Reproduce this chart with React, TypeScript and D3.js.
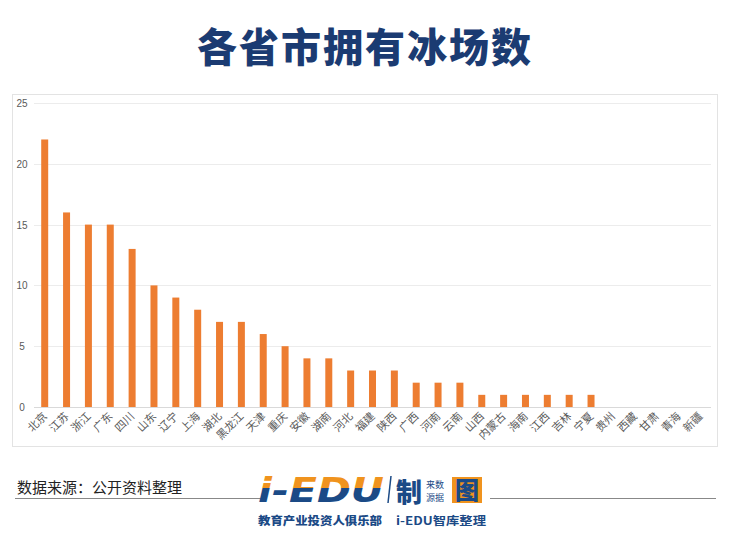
import React from "react";
import * as d3 from "d3";

const provinces = ["北京","江苏","浙江","广东","四川","山东","辽宁","上海","湖北","黑龙江","天津","重庆","安徽","湖南","河北","福建","陕西","广西","河南","云南","山西","内蒙古","海南","江西","吉林","宁夏","贵州","西藏","甘肃","青海","新疆"];
const rinkCounts = [22,16,15,15,13,10,9,8,7,7,6,5,4,4,3,3,3,2,2,2,1,1,1,1,1,1,0,0,0,0,0];
const yTicks = [0,5,10,15,20,25];
const titleText = "各省市拥有冰场数";
const sourceText = "数据来源：公开资料整理";

const W = 730, H = 535;
const plot = { left: 34, right: 711, top: 103, bottom: 407 };

export default function App() {
  const x = d3.scaleBand<string>().domain(provinces).range([plot.left, plot.right]).paddingInner(0.68).paddingOuter(0.33);
  const y = d3.scaleLinear().domain([0, 25]).range([plot.bottom, plot.top]);
  const cjk = "'Noto Sans CJK SC', 'Noto Sans', sans-serif";
  return (
    <div style={{ position: "absolute", left: 0, top: 0 }}>
      <svg width={W} height={H} style={{ display: "block", background: "#fff" }}>
        <defs>
          <linearGradient id="logoGrad" x1="0" y1="0" x2="0" y2="1">
            <stop offset="0" stopColor="#f0931e" />
            <stop offset="0.45" stopColor="#f0931e" />
            <stop offset="0.45" stopColor="#1b4a86" />
            <stop offset="1" stopColor="#1b4a86" />
          </linearGradient>
        </defs>
        <rect x={0} y={0} width={W} height={H} fill="#fff" />
        {/* title */}
        <text x={365} y={62} textAnchor="middle" fontFamily={cjk} fontWeight={900} fontSize={40} fill="#1b3b72" letterSpacing={2}>{titleText}</text>
        {/* chart frame */}
        <rect x={12.5} y={94.5} width={705} height={352} fill="none" stroke="#e3e3e3" strokeWidth={1} />
        {/* gridlines and y labels */}
        {yTicks.map(t => (
          <g key={t}>
            <line x1={plot.left} x2={plot.right} y1={Math.round(y(t)) + 0.5} y2={Math.round(y(t)) + 0.5} stroke={t === 0 ? "#d9d9d9" : "#ececec"} strokeWidth={1} />
            <text x={22} y={y(t) + 4} textAnchor="middle" fontFamily="'Liberation Sans', Arial, sans-serif" fontSize={10} fill="#595959">{t}</text>
          </g>
        ))}
        {/* bars */}
        {provinces.map((p, i) => (
          <rect key={p} x={x(p)!} y={y(rinkCounts[i])} width={x.bandwidth()} height={y(0) - y(rinkCounts[i])} fill="#ed7d31" />
        ))}
        {/* x labels */}
        {provinces.map(p => {
          const cx = x(p)! + x.bandwidth() / 2 + 3;
          return (
            <text key={p} transform={`translate(${cx},${plot.bottom + 10}) rotate(-45)`} textAnchor="end" fontFamily={cjk} fontSize={11} fill="#595959">{p}</text>
          );
        })}
        {/* footer */}
        <text x={17} y={493} fontFamily={cjk} fontSize={15} fill="#222">{sourceText}</text>
        <line x1={15} x2={262} y1={498.5} y2={498.5} stroke="#888" strokeWidth={1} />
        <line x1={490} x2={716} y1={498.5} y2={498.5} stroke="#888" strokeWidth={1} />
        <text x={258} y={502} fontFamily="'DejaVu Sans', sans-serif" fontWeight={900} fontStyle="italic" fontSize={34} fill="url(#logoGrad)" textLength={126} lengthAdjust="spacingAndGlyphs">i-EDU</text>
        <line x1={391} x2={388} y1={476} y2={503} stroke="#1b4a86" strokeWidth={1.5} />
        <text x={396} y={502} fontFamily={cjk} fontWeight={900} fontSize={26} fill="#1b4a86">制</text>
        <text x={426} y={488} fontFamily={cjk} fontSize={9} fill="#1b4a86">来数</text>
        <text x={426} y={501} fontFamily={cjk} fontSize={9} fill="#1b4a86">源据</text>
        <rect x={452} y={477} width={30} height={26} fill="#f0931e" />
        <text x={467} y={499} textAnchor="middle" fontFamily={cjk} fontWeight={900} fontSize={24} fill="#1b4a86">图</text>
        <text x={258} y={525} fontFamily={cjk} fontWeight={900} fontSize={11} fill="#1b4a86" textLength={124} lengthAdjust="spacingAndGlyphs">教育产业投资人俱乐部</text>
        <text x={396} y={525} fontFamily={cjk} fontWeight={700} fontSize={11} fill="#1b4a86" textLength={90} lengthAdjust="spacingAndGlyphs">i-EDU智库整理</text>
      </svg>
    </div>
  );
}
